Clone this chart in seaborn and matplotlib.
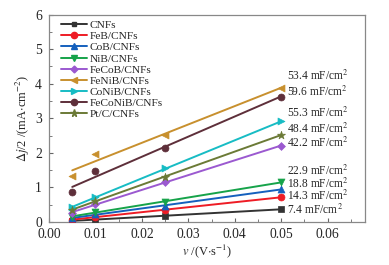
import numpy as np
import pandas as pd
import matplotlib
matplotlib.use('Agg')
import matplotlib.pyplot as plt
from matplotlib.ticker import MultipleLocator
import seaborn as sns

# scan rates (V/s)
scan_rates = [0.005, 0.01, 0.025, 0.05]

samples = ['CNFs', 'FeB/CNFs', 'CoB/CNFs', 'NiB/CNFs', 'FeCoB/CNFs',
           'FeNiB/CNFs', 'CoNiB/CNFs', 'FeCoNiB/CNFs', 'Pt/C/CNFs']

# delta j / 2 (mA/cm2)
cnfs = [0.03, 0.08, 0.18, 0.37]
feb = [0.07, 0.15, 0.35, 0.72]
cob = [0.12, 0.22, 0.47, 0.95]
nib = [0.15, 0.30, 0.59, 1.15]
fecob = [0.27, 0.52, 1.15, 2.21]
fenib = [1.34, 1.96, 2.52, 3.88]
conib = [0.43, 0.72, 1.55, 2.91]
feconib = [0.88, 1.48, 2.15, 3.63]
ptc = [0.35, 0.62, 1.31, 2.52]

capacitance = ['7.4', '14.3', '18.8', '22.9', '42.2', '53.4', '55.3', '59.6', '48.4']
label_y = [0.36, 0.77, 1.105, 1.48, 2.28, 4.24, 3.15, 3.76, 2.70]

colors = ['#333333', '#ee1c25', '#1560bd', '#16a34a', '#9b59d0',
          '#c8902e', '#17bcc4', '#5e2f3a', '#6b7a36']
markers = ['s', 'o', '^', 'v', 'D', '<', '>', 'o', '*']
msizes = [4, 5, 5, 5, 4, 5, 5, 5, 6]

series = [cnfs, feb, cob, nib, fecob, fenib, conib, feconib, ptc]

df = pd.DataFrame({
    'v': np.tile(scan_rates, len(samples)),
    'dj': np.concatenate(series),
    'sample': np.repeat(samples, len(scan_rates)),
})

sns.set_style('ticks')
plt.rcParams['font.family'] = ['Liberation Serif', 'DejaVu Serif']
plt.rcParams['mathtext.fontset'] = 'stix'

fig = plt.figure(figsize=(3.89, 2.65), dpi=100)
ax = fig.add_axes([0.126, 0.162, 0.812, 0.783])

for i, name in enumerate(samples):
    sub = df[df['sample'] == name]
    # linear fit through the measured points
    k, b = np.polyfit(sub['v'], sub['dj'], 1)
    xs = np.array([scan_rates[0], scan_rates[-1]])
    fit = pd.DataFrame({'v': xs, 'dj': k * xs + b})
    sns.lineplot(data=fit, x='v', y='dj', color=colors[i], lw=1.4, ax=ax,
                 legend=False)
    sns.scatterplot(data=sub, x='v', y='dj', color=colors[i], marker=markers[i],
                    s=msizes[i] ** 2, edgecolor=colors[i], linewidth=0.5,
                    ax=ax, legend=False, zorder=3)
    ax.plot([], [], color=colors[i], marker=markers[i], ms=msizes[i] - 0.5,
            lw=1.4, label=name)
    ax.text(0.0512, label_y[i], capacitance[i] + ' mF/cm$^2$', fontsize=8.3,
            va='center', ha='left')

ax.set_xlim(0, 0.068)
ax.set_ylim(0, 6)
ax.xaxis.set_major_locator(MultipleLocator(0.01))
ax.xaxis.set_minor_locator(MultipleLocator(0.005))
ax.yaxis.set_major_locator(MultipleLocator(1))
ax.yaxis.set_minor_locator(MultipleLocator(0.5))
ax.xaxis.set_major_formatter(matplotlib.ticker.FormatStrFormatter('%.2f'))
ax.tick_params(which='both', direction='in', labelsize=9.8, color='#666666')
ax.tick_params(which='major', length=3)
ax.tick_params(which='minor', length=2)
ax.tick_params(axis='x', pad=4.5)
ax.tick_params(axis='y', pad=5)
for s in ax.spines.values():
    s.set_color('#888888')
    s.set_linewidth(0.9)

ax.set_xlabel(r'$v$ /(V$\cdot$s$^{-1}$)', fontsize=9, labelpad=1)
ax.set_ylabel(r'$\Delta j$/2 /(mA$\cdot$cm$^{-2}$)', fontsize=9, labelpad=2)

ax.legend(loc='upper left', frameon=False, fontsize=8.2, handlelength=2.3,
          handletextpad=0.2, labelspacing=0.1, borderaxespad=0.1,
          bbox_to_anchor=(0.02, 1.0))

fig.savefig('out.png', dpi=100)
